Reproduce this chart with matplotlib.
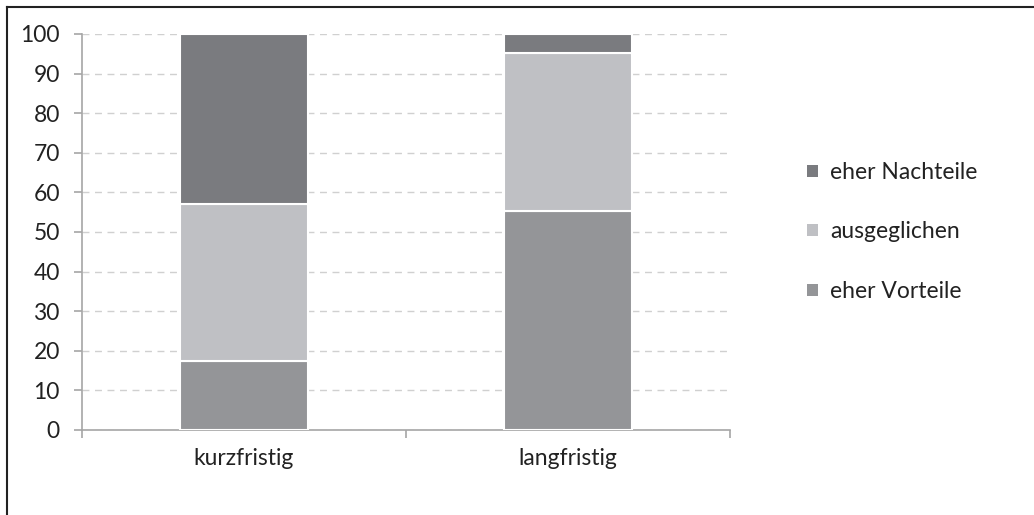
import matplotlib
matplotlib.use("Agg")
import matplotlib.pyplot as plt
from matplotlib.lines import Line2D
from matplotlib.patches import Patch

plt.rcParams['font.family'] = ['Lato', 'DejaVu Sans']

categories = ["kurzfristig", "langfristig"]
series_names = ["eher Vorteile", "ausgeglichen", "eher Nachteile"]
vorteile = [17.4, 55.3]
ausgeglichen = [39.7, 40.0]
nachteile = [42.9, 4.7]
colors = ["#949598", "#bfc0c4", "#7a7b7f"]
yticks = [0, 10, 20, 30, 40, 50, 60, 70, 80, 90, 100]

fig = plt.figure(figsize=(10.34, 5.15), dpi=100)
ax = fig.add_axes([82/1034, 85/515, 648/1034, 396/515])

x = list(range(len(categories)))
bottom = [0.0] * len(categories)
handles = []
for name, vals, c in zip(series_names, [vorteile, ausgeglichen, nachteile], colors):
    ax.bar(x, vals, bottom=bottom, width=0.395, color=c, edgecolor="white",
           linewidth=1.5, zorder=3, label=name)
    bottom = [b + v for b, v in zip(bottom, vals)]
    handles.append(Patch(facecolor=c, edgecolor="none", label=name))

fs = 16.5
ax.set_xlim(-0.5, 1.5)
ax.set_ylim(0, 100)
ax.set_yticks(yticks)
ax.set_xticks([0, 1])
ax.set_xticklabels(categories)
ax.set_xticks([-0.5, 0.5, 1.5], minor=True)
ax.tick_params(axis='x', which='major', length=0, pad=13, labelsize=fs, colors="#222222")
ax.tick_params(axis='x', which='minor', length=6, color="#a6a6a6", width=1.2, direction='out')
ax.tick_params(axis='y', length=6, color="#a6a6a6", width=1.2, labelsize=fs, labelcolor="#222222", pad=10)
ax.yaxis.grid(True, linestyle=(0, (5, 4)), color="#d0d0d0", linewidth=1, zorder=0)
ax.set_axisbelow(True)
for s in ["top", "right"]:
    ax.spines[s].set_visible(False)
for s in ["left", "bottom"]:
    ax.spines[s].set_color("#a6a6a6")
    ax.spines[s].set_linewidth(1.2)

fig.legend(handles=handles[::-1], loc="center left", bbox_to_anchor=(796/1034, 1 - 232/515),
           frameon=False, fontsize=fs, labelspacing=1.68, handlelength=0.45,
           handleheight=0.45, handletextpad=0.55, borderpad=0, labelcolor="#222222")

# outer frame (cropped at right/bottom)
fig.add_artist(Line2D([6.5/1034, 1], [1 - 6.5/515, 1 - 6.5/515], transform=fig.transFigure,
                      color="#222222", linewidth=1.5))
fig.add_artist(Line2D([6.5/1034, 6.5/1034], [0, 1 - 6.5/515], transform=fig.transFigure,
                      color="#222222", linewidth=1.5))

fig.savefig("out.png", dpi=100)
